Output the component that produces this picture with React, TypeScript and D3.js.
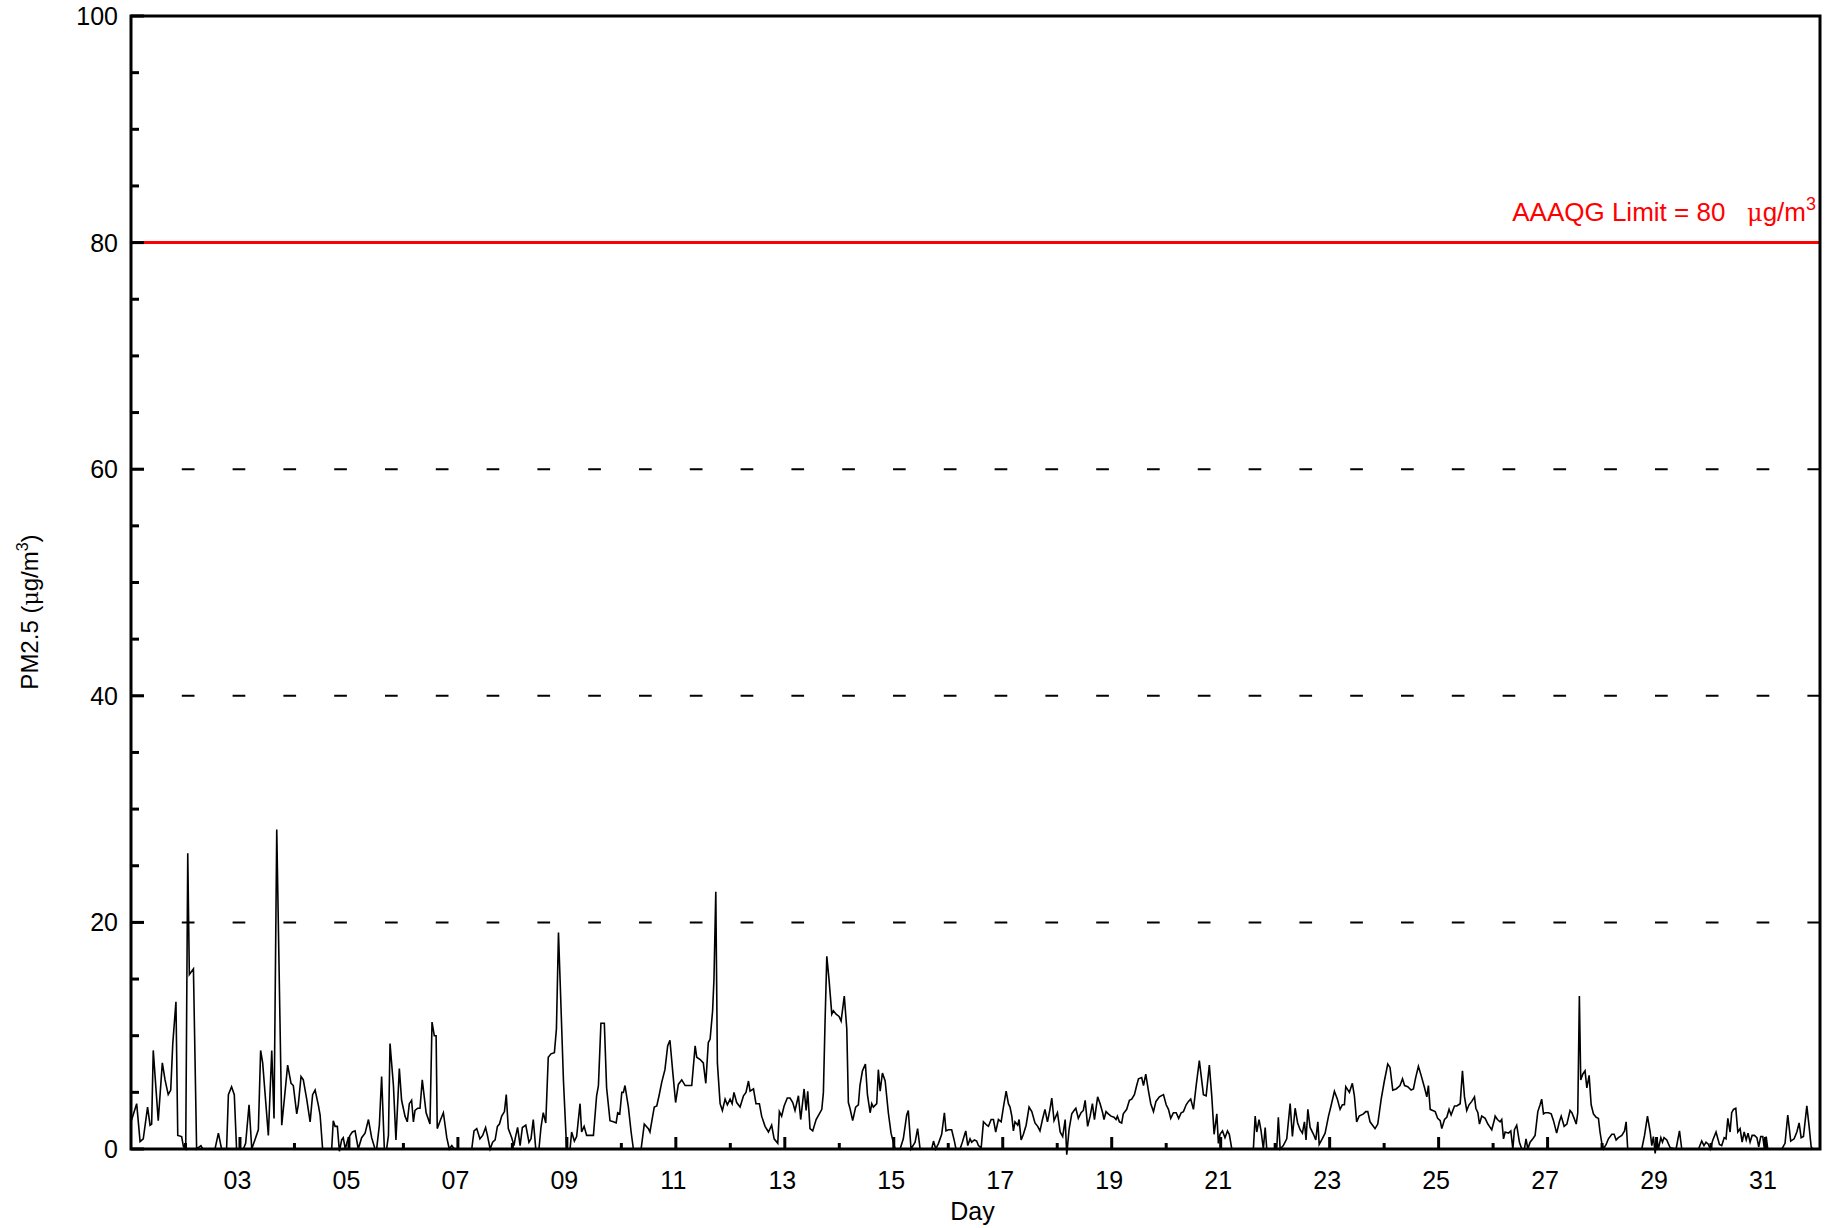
import React from "react";
import * as d3 from "d3";

// ---------- data (hour since start of day 01, PM2.5 µg/m3) ----------
const week1: [number, number][] = [
  [0, 2.4], [2.5, 4.0], [4.0, 0.65], [5.4, 0.9], [7.3, 3.7], [8.4, 2.1], [9.1, 2.2], [9.8, 8.7],
  [12.0, 2.5], [13.8, 7.6], [15.0, 6.1], [16.4, 4.8], [17.5, 5.2], [18.4, 9.3], [19.8, 13.0], [20.6, 1.2],
  [22.3, 1.1], [23.1, 0.2], [24.1, 0], [25.0, 26.1], [25.7, 15.4], [27.5, 15.9], [28.9, 0], [30.8, 0.3],
  [31.6, 0], [37.0, 0], [38.5, 1.4], [39.9, 0], [42.1, 0], [42.9, 4.8], [44.3, 5.5], [45.5, 4.8],
  [46.5, 0], [49.5, 0], [50.5, 0.5], [52.0, 3.9], [53.2, 0], [56.1, 1.7], [57.1, 8.7], [58.0, 7.6],
  [60.5, 1.2], [62.0, 8.7], [63.0, 2.7], [64.2, 28.2], [66.4, 2.1], [67.5, 4.3], [69.0, 7.4], [70.5, 5.8],
  [71.5, 5.6], [73.0, 3.1], [73.7, 3.9], [74.9, 6.4], [75.9, 6.1], [77.4, 4.4], [78.9, 2.4], [80.0, 4.8],
  [81.1, 5.2], [82.5, 3.9], [83.3, 3.0], [84.4, 0], [88.4, 0], [89.1, 2.5], [89.9, 2.0], [90.9, 2.0],
  [91.8, -0.2], [92.8, 0.8], [93.5, 1.0], [94.4, 0], [95.3, 0.7], [96.5, 1.2], [97.5, 1.5], [98.7, 1.6],
  [100.1, 0], [101.6, 1.0], [103.1, 1.4], [104.6, 2.6], [106.0, 1.0], [107.5, 0], [108.2, 0], [109.4, 2.1],
  [110.4, 6.4], [111.6, 0], [112.6, 0], [113.4, 1.2], [114.1, 9.3], [115.6, 5.6], [116.7, 0.8], [118.2, 7.1],
  [119.2, 4.3], [120.7, 2.9], [121.7, 2.4], [122.6, 4.0], [123.6, 4.3], [124.4, 2.4], [125.1, 3.4], [126.3, 3.6],
  [127.3, 3.6], [128.3, 6.1], [130.0, 3.2], [131.7, 2.2], [132.6, 11.2], [133.6, 10.0], [134.4, 10.0], [134.9, 1.8],
  [136.4, 2.6], [137.6, 3.2], [139.1, 1.0], [140.2, 0], [141.3, 0.3], [142.4, 0], [150.1, 0], [151.1, 1.6],
  [152.3, 1.8], [153.7, 0.9], [154.9, 1.2], [156.2, 1.9], [157.0, 1.2], [158.2, 0], [159.3, 0.6], [160.4, 0.8],
  [161.4, 2.0], [162.3, 2.2], [163.3, 2.9], [164.5, 3.3], [165.3, 4.8], [166.2, 1.8], [167.7, 1.0], [168.7, 0.3],
];

const week2: [number, number][] = [
  [169.2, 0.9], [170.3, 1.9], [171.4, 0.3], [172.4, 1.9], [173.9, 2.1], [175.3, 0.6], [176.2, 0.9], [177.2, 2.6],
  [178.3, 0], [179.7, 0], [180.6, 1.9], [181.6, 3.2], [182.7, 2.3], [183.8, 8.1], [185.0, 8.4], [186.5, 8.5],
  [187.4, 10.6], [188.3, 19.1], [189.0, 15.0], [190.5, 6.0], [191.9, 0], [193.4, 0], [194.1, 1.5], [195.3, 0.7],
  [196.3, 1.1], [197.8, 4.0], [198.5, 1.5], [199.6, 2.0], [200.7, 1.2], [202.2, 1.2], [203.7, 1.2], [205.1, 4.7],
  [205.9, 5.6], [207.0, 11.1], [208.5, 11.1], [209.5, 5.4], [211.0, 2.5], [212.5, 2.4], [213.7, 2.3], [214.4, 3.2],
  [215.3, 3.1], [216.2, 5.0], [216.9, 5.0], [217.6, 5.6], [219.1, 3.7], [220.3, 1.5], [221.3, 0], [224.7, 0],
  [226.1, 2.2], [227.9, 1.8], [228.6, 1.5], [229.7, 2.8], [230.5, 3.7], [231.6, 3.8], [232.6, 4.7], [233.8, 5.9],
  [235.2, 7.0], [236.4, 9.1], [237.4, 9.6], [238.6, 6.9], [239.9, 4.1], [241.1, 5.7], [242.6, 6.1], [244.1, 5.6],
  [245.5, 5.6], [247.0, 5.6], [248.5, 9.1], [249.2, 8.1], [250.7, 7.9], [252.1, 7.6], [253.2, 5.8], [254.3, 9.4],
  [255.1, 9.7], [256.2, 12.2], [256.8, 15.0], [257.6, 22.7], [258.3, 7.6], [259.5, 4.0], [260.5, 3.4], [261.7, 4.4],
  [262.7, 3.9], [263.9, 4.4], [264.8, 4.0], [265.6, 5.0], [266.8, 4.1], [268.3, 3.7], [269.8, 4.7], [270.9, 5.0],
  [272.0, 6.0], [272.7, 5.1], [274.2, 5.3], [275.3, 4.0], [276.8, 4.0], [277.8, 2.9], [279.3, 2.0], [280.8, 1.5],
  [282.2, 2.1], [283.3, 0.9], [284.9, 0.5], [285.6, 3.3], [286.6, 2.9], [287.7, 3.8], [289.1, 4.5], [290.3, 4.5],
  [291.5, 4.1], [292.5, 3.4], [294.0, 4.7], [295.0, 2.6], [296.5, 5.3], [297.4, 3.4], [298.1, 5.1], [299.1, 1.8],
  [300.3, 1.6], [301.8, 2.6], [303.2, 3.1], [304.3, 3.5], [305.0, 5.0], [305.7, 11.0], [306.5, 17.0], [307.5, 14.9],
  [308.7, 11.9], [309.4, 12.2], [310.6, 11.9], [311.9, 11.7], [312.8, 11.3], [314.2, 13.5], [315.3, 10.6], [316.0, 4.1],
  [316.7, 3.6], [317.9, 2.5], [319.2, 3.7], [320.4, 3.9], [321.1, 5.6], [322.2, 6.9], [323.5, 7.5], [324.4, 4.8],
  [325.6, 3.2], [326.3, 4.0], [327.0, 3.7], [328.5, 4.0], [329.2, 7.0], [330.0, 5.1], [331.0, 6.7], [332.2, 6.0],
  [333.6, 3.2], [334.8, 1.4], [335.8, 0.6],
];

const week3: [number, number][] = [
  [336.6, 0], [338.8, 0], [340.2, 0.9], [341.7, 3.0], [342.4, 3.4], [343.6, 0], [345.4, 0.6], [346.5, 1.8],
  [347.6, 0], [352.7, 0], [353.5, 0.7], [354.5, 0], [355.7, 0.5], [357.1, 1.3], [358.3, 3.2], [359.0, 1.6],
  [360.1, 1.7], [361.5, 1.7], [362.7, 0.7], [363.4, 0], [365.2, 0], [366.2, 0.6], [367.7, 1.6], [368.6, 0.3],
  [369.6, 0.9], [370.3, 0.6], [371.5, 0.8], [372.5, 0.7], [373.3, 0.3], [374.5, 0.1], [375.5, 2.4], [377.0, 2.1],
  [377.7, 2.0], [378.9, 2.6], [379.9, 2.6], [380.9, 1.5], [382.1, 2.6], [383.3, 2.4], [384.3, 3.7], [385.5, 5.1],
  [386.5, 4.0], [387.2, 3.7], [388.0, 2.9], [388.7, 1.6], [389.4, 2.4], [390.6, 2.1], [391.2, 2.6], [392.1, 0.8],
  [393.1, 1.3], [394.3, 2.1], [395.6, 3.7], [396.8, 3.3], [398.2, 2.3], [399.4, 2.0], [400.4, 1.6], [401.5, 2.6],
  [402.6, 3.5], [403.7, 2.4], [404.8, 3.5], [405.6, 4.5], [406.6, 2.5], [408.1, 3.2], [409.3, 1.5], [410.4, 1.1],
  [411.5, 2.6], [412.2, -0.5], [413.2, 1.7], [414.4, 3.1], [415.4, 3.4], [416.2, 3.6], [417.3, 2.7], [418.5, 3.2],
  [419.5, 3.4], [420.3, 4.3], [421.4, 2.0], [422.5, 2.9], [423.5, 4.0], [424.4, 2.6], [425.8, 4.6], [426.9, 4.0],
  [428.0, 3.2], [428.6, 2.6], [429.5, 3.3], [430.5, 3.1], [431.7, 2.9], [433.0, 2.8], [433.9, 2.6], [434.5, 2.9],
  [435.4, 2.4], [436.4, 2.3], [437.1, 3.1], [438.6, 3.5], [439.8, 4.3], [440.8, 4.4], [442.0, 4.8], [443.0, 5.6],
  [443.8, 6.2], [445.2, 6.3], [446.0, 5.6], [447.0, 6.6], [448.2, 5.1], [449.2, 4.0], [450.4, 3.3], [451.5, 4.2],
  [453.0, 4.6], [454.8, 4.8], [456.0, 3.9], [457.0, 3.5], [458.0, 2.7], [459.2, 3.2], [460.4, 3.2], [461.5, 2.7],
  [462.6, 3.2], [463.6, 3.3], [464.8, 3.9], [465.8, 4.2], [466.8, 4.4], [468.0, 3.5], [469.2, 5.6], [470.6, 7.8],
  [472.4, 4.8], [473.6, 4.7], [475.0, 7.4], [476.1, 4.6], [477.1, 1.3], [478.3, 3.1], [479.0, 0.5], [479.7, 1.3],
  [480.8, 1.6], [481.9, 1.0], [483.0, 1.6], [483.8, 1.3], [484.9, 0], [494.4, 0], [495.2, 2.9], [495.9, 1.5],
  [496.9, 2.6], [497.8, 1.6], [498.8, 0], [499.6, 1.9], [500.3, 0], [504.7, 0],
];

const week4: [number, number][] = [
  [505.4, 2.8], [506.2, 0], [507.6, 0.3], [509.1, 0.9], [510.6, 4.0], [511.6, 1.1], [512.8, 3.6], [513.9, 2.3],
  [515.0, 1.7], [516.0, 1.4], [516.9, 2.4], [517.6, 0.8], [518.4, 3.5], [519.4, 1.9], [520.9, 1.3], [521.9, 0.8],
  [522.8, 2.4], [523.4, 0.4], [524.5, 0.8], [526.0, 1.4], [527.5, 2.9], [528.6, 3.8], [530.1, 5.1], [531.4, 4.4],
  [532.6, 3.5], [533.6, 3.9], [534.5, 3.9], [535.1, 5.5], [536.7, 5.0], [538.0, 5.8], [538.9, 4.7], [539.9, 2.4],
  [541.0, 2.9], [542.9, 3.1], [543.9, 3.3], [544.8, 3.3], [545.8, 2.4], [546.9, 2.1], [548.0, 1.8], [549.2, 2.2],
  [550.7, 4.4], [552.1, 6.0], [553.6, 7.5], [554.6, 7.2], [555.8, 5.2], [557.3, 5.3], [559.0, 5.6], [560.1, 6.2],
  [561.0, 5.6], [562.4, 5.5], [563.9, 5.2], [564.9, 5.3], [565.9, 6.3], [567.1, 7.3], [568.3, 6.5], [569.8, 5.4],
  [570.8, 4.6], [571.5, 5.6], [572.3, 3.5], [573.4, 3.4], [574.5, 3.3], [575.6, 2.7], [576.7, 2.5], [577.4, 1.8],
  [578.6, 2.6], [579.6, 2.8], [580.6, 3.5], [581.5, 3.0], [583.0, 3.8], [584.0, 3.8], [585.5, 4.0], [586.5, 6.9],
  [587.4, 4.6], [588.4, 3.4], [589.4, 3.9], [590.6, 4.2], [591.8, 4.6], [592.4, 3.6], [593.3, 3.2], [594.0, 2.2],
  [595.0, 2.9], [596.5, 2.7], [597.7, 2.2], [598.4, 2.0], [599.4, 1.7], [600.6, 2.6], [600.9, 2.9], [601.9, 2.6],
  [603.1, 2.4], [603.8, 2.6], [604.6, 0.9], [605.3, 1.5], [606.8, 1.4], [607.8, 1.6], [608.7, 0], [609.4, 1.7],
  [610.4, 2.1], [611.6, 0.6], [612.6, 0], [613.8, 0], [614.5, 0.9], [615.3, 0], [616.3, 0.6], [617.5, 0.9],
  [618.5, 1.2], [619.7, 3.3], [620.7, 3.9], [621.4, 4.4], [622.2, 3.1], [622.9, 3.2], [624.4, 3.2], [625.6, 3.1],
  [626.6, 2.5], [628.0, 1.4], [629.2, 2.4], [630.0, 2.9], [631.3, 2.0], [632.5, 2.2], [633.9, 3.4], [634.7, 3.2],
  [635.7, 2.7], [636.6, 2.2], [637.3, 3.2], [638.0, 13.5], [638.6, 6.1], [639.5, 6.6], [640.5, 6.9], [641.3, 5.4],
  [642.3, 6.5], [643.2, 3.9], [644.2, 3.1], [645.4, 2.8], [646.4, 2.7], [647.1, 1.5], [647.9, 0.5], [648.6, 0],
  [649.8, 0.4], [650.8, 0.9], [652.3, 1.3], [653.3, 1.3], [654.2, 0.8], [655.2, 1.0], [656.7, 1.2], [657.9, 1.6],
  [658.6, 2.4], [659.3, 0], [665.5, 0], [666.7, 1.2], [668.0, 2.9], [669.2, 1.5], [669.9, 0.3], [670.6, 1.1],
  [671.4, -0.4],
];

const week5: [number, number][] = [
  [672.1, 1.0], [672.8, 0], [673.9, 1.0], [674.6, 0.6], [675.3, 1.0], [676.5, 0.8], [678.0, 0.1], [680.6, 0],
  [682.1, 1.6], [683.1, 0], [690.5, 0], [691.9, 0.7], [692.9, 0.3], [693.8, 0.6], [694.9, 0.4], [695.6, 0],
  [696.8, 0.8], [698.2, 1.5], [699.7, 0.4], [700.7, 0.3], [701.8, 1.0], [702.6, 0.9], [703.4, 2.7], [704.4, 1.5],
  [705.1, 3.2], [705.9, 3.5], [706.9, 3.6], [707.8, 1.5], [708.8, 1.8], [709.7, 0.6], [710.6, 1.5], [711.5, 0.8],
  [712.3, 1.4], [713.2, 0.6], [714.1, 1.2], [715.1, 1.2], [716.2, 1.0], [717.0, 0.2], [717.9, 1.1], [718.8, 1.1],
  [719.5, 0], [720.3, 1.1], [721.0, 0], [727.2, 0], [728.6, 0.5], [729.8, 3.0], [731.1, 0.7], [732.6, 0.9],
  [733.8, 1.5], [734.8, 2.3], [735.7, 1.0], [736.7, 1.1], [738.2, 3.8], [739.2, 2.0], [740.1, 0.2], [740.7, 0],
];

const series: [number, number][] = [...week1, ...week2, ...week3, ...week4, ...week5];

const nDays = 31;
const hoursPerDay = 24;
const yMajor = [0, 20, 40, 60, 80, 100];
const gridValues = [20, 40, 60];
const limitValue = 80;
const dayLabels = ["03", "05", "07", "09", "11", "13", "15", "17", "19", "21", "23", "25", "27", "29", "31"];

// ---------- layout ----------
const W = 1832;
const H = 1228;
const L = 131, R = 1820, T = 16, B = 1149;
const FONT = "'Liberation Sans', Arial, Helvetica, sans-serif";

export default function App() {
  const x = d3.scaleLinear().domain([0, nDays * hoursPerDay]).range([L, R]);
  const y = d3.scaleLinear().domain([0, 100]).range([B, T]);

  const line = d3
    .line<[number, number]>()
    .x((d) => x(d[0]))
    .y((d) => y(d[1]));

  const yMinor = d3.range(0, 101, 5).filter((v) => !yMajor.includes(v));
  const dayTicks = d3.range(2, nDays + 1);

  return (
    <svg
      width={W}
      height={H}
      style={{ position: "absolute", left: 0, top: 0, background: "#fff" }}
      fontFamily={FONT}
    >
      <rect x={0} y={0} width={W} height={H} fill="#fff" />

      {/* dashed grid lines */}
      {gridValues.map((v) => (
        <line
          key={"g" + v}
          x1={L}
          x2={R}
          y1={y(v)}
          y2={y(v)}
          stroke="#000"
          strokeWidth={2}
          strokeDasharray="12.7 38.1"
        />
      ))}

      {/* data line */}
      <path d={line(series) || ""} fill="none" stroke="#000" strokeWidth={1.6} strokeLinejoin="miter" />

      {/* limit line */}
      <line x1={L} x2={R} y1={y(limitValue)} y2={y(limitValue)} stroke="#ff0000" strokeWidth={3} />
      <text x={1816} y={221} fontSize={26} fill="#ff0000" textAnchor="end">
        AAAQG Limit = {limitValue}{"\u00a0\u00a0\u00a0"}
        <tspan fontFamily="'DejaVu Serif', serif" fontSize={24}>μ</tspan>g/m
        <tspan dy={-11} fontSize={18}>3</tspan>
      </text>

      {/* y ticks */}
      {yMajor.map((v) => (
        <line key={"ym" + v} x1={L} x2={L + 13} y1={y(v)} y2={y(v)} stroke="#000" strokeWidth={3} />
      ))}
      {yMinor.map((v) => (
        <line key={"yn" + v} x1={L} x2={L + 8} y1={y(v)} y2={y(v)} stroke="#000" strokeWidth={3} />
      ))}
      {yMajor.map((v) => (
        <text key={"yl" + v} x={118} y={y(v) + 9} fontSize={25} textAnchor="end" fill="#000">
          {v}
        </text>
      ))}

      {/* x ticks */}
      {dayTicks.map((d) => {
        const major = d % 2 === 1;
        const xx = x((d - 1) * hoursPerDay);
        return (
          <line key={"xt" + d} x1={xx} x2={xx} y1={B} y2={B - (major ? 12 : 6)} stroke="#000" strokeWidth={3} />
        );
      })}
      {dayLabels.map((lab) => {
        const d = +lab;
        return (
          <text key={"xl" + lab} x={x((d - 1) * hoursPerDay) - 2.5} y={1189} fontSize={25} textAnchor="middle" fill="#000">
            {lab}
          </text>
        );
      })}

      {/* frame */}
      <rect x={L} y={T} width={R - L} height={B - T} fill="none" stroke="#000" strokeWidth={3} />

      {/* axis titles */}
      <text x={(L + R) / 2 - 3} y={1220} fontSize={25} textAnchor="middle" fill="#000">
        Day
      </text>
      <text transform={`translate(38, ${612}) rotate(-90)`} fontSize={24} textAnchor="middle" fill="#000">
        PM2.5 (<tspan fontFamily="'DejaVu Serif', serif" fontSize={22}>μ</tspan>g/m
        <tspan dy={-10} fontSize={16}>3</tspan>
        <tspan dy={10}>)</tspan>
      </text>
    </svg>
  );
}
